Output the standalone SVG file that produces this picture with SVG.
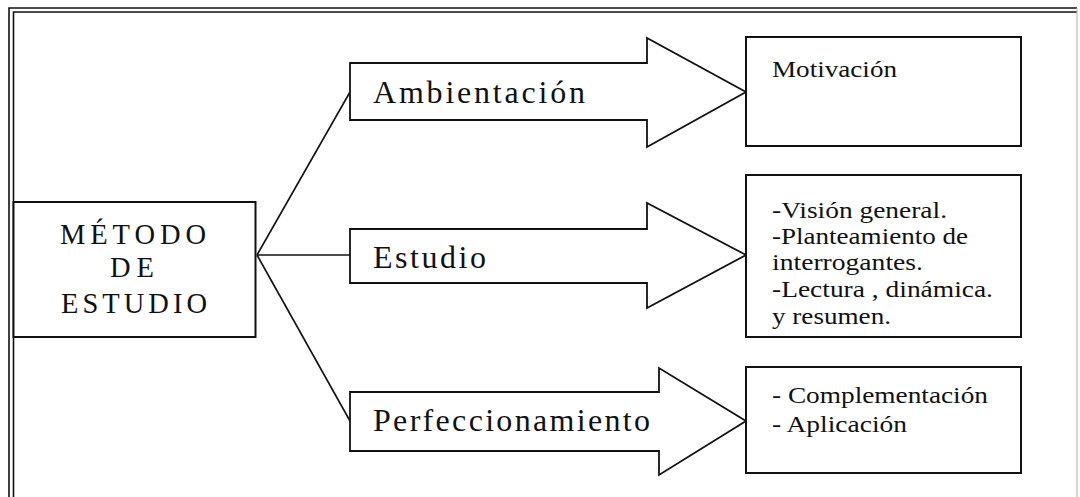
<svg xmlns="http://www.w3.org/2000/svg" width="1080" height="497" viewBox="0 0 1080 497">
<style>
.frame{fill:none;stroke:#111;stroke-width:1.6}
.faint{fill:none;stroke:#bbb;stroke-width:1.2}
.box{fill:#fff;stroke:#111;stroke-width:2}
.arrow{fill:#fff;stroke:#111;stroke-width:1.8;stroke-linejoin:miter}
.conn{fill:none;stroke:#111;stroke-width:1.6}
.big{font-family:"Liberation Serif","Times New Roman",serif;font-size:32px;fill:#111}
.mid{font-family:"Liberation Serif","Times New Roman",serif;font-size:28.5px;fill:#111}
.small{font-family:"Liberation Serif","Times New Roman",serif;font-size:23.5px;fill:#111}
</style>
<rect x="0" y="0" width="1080" height="497" fill="#fff"/>
<g id="frame">
<path class="frame" d="M9,520 V8 H1077"/>
<path class="frame" d="M13.5,520 V12 H1077"/>
<path class="faint" d="M1077,8 V520"/>
</g>
<g id="connectors">
<line class="conn" x1="257" y1="255" x2="350" y2="92"/>
<line class="conn" x1="257" y1="255" x2="350" y2="255"/>
<line class="conn" x1="257" y1="255" x2="350" y2="421"/>
</g>
<g id="metodo">
<rect class="box" x="13.5" y="202" width="242" height="135"/>
<text class="mid" x="60" y="244" textLength="146" lengthAdjust="spacing">MÉTODO</text>
<text class="mid" x="110" y="277" textLength="44" lengthAdjust="spacing">DE</text>
<text class="mid" x="61" y="313" textLength="146" lengthAdjust="spacing">ESTUDIO</text>
</g>
<g id="ambientacion">
<polygon class="arrow" points="350,63 647,63 647,38 746,92 647,147 647,120 350,120"/>
<text class="big" x="373" y="103" textLength="212" lengthAdjust="spacing">Ambientación</text>
</g>
<g id="estudio">
<polygon class="arrow" points="350,229 647,229 647,203 746,255 647,308 647,283 350,283"/>
<text class="big" x="373" y="268" textLength="113" lengthAdjust="spacing">Estudio</text>
</g>
<g id="perfeccionamiento">
<polygon class="arrow" points="350,392 659,392 659,368 746,421 659,475 659,451 350,451"/>
<text class="big" x="373" y="431" textLength="277" lengthAdjust="spacing">Perfeccionamiento</text>
</g>
<g id="motivacion">
<rect class="box" x="746" y="37" width="275" height="109"/>
<text class="small" x="772" y="77" textLength="125" lengthAdjust="spacingAndGlyphs">Motivación</text>
</g>
<g id="estudio-detalle">
<rect class="box" x="746" y="175" width="275" height="162"/>
<text class="small" x="772" y="218" textLength="175" lengthAdjust="spacingAndGlyphs">-Visión general.</text>
<text class="small" x="772" y="244" textLength="196" lengthAdjust="spacingAndGlyphs">-Planteamiento de</text>
<text class="small" x="772" y="270" textLength="151" lengthAdjust="spacingAndGlyphs">interrogantes.</text>
<text class="small" x="772" y="297" textLength="221" lengthAdjust="spacingAndGlyphs">-Lectura , dinámica.</text>
<text class="small" x="772" y="324" textLength="119" lengthAdjust="spacingAndGlyphs">y resumen.</text>
</g>
<g id="perfeccionamiento-detalle">
<rect class="box" x="746" y="367" width="275" height="106"/>
<text class="small" x="772" y="403" textLength="216" lengthAdjust="spacingAndGlyphs">- Complementación</text>
<text class="small" x="772" y="432" textLength="135" lengthAdjust="spacingAndGlyphs">- Aplicación</text>
</g>
</svg>
